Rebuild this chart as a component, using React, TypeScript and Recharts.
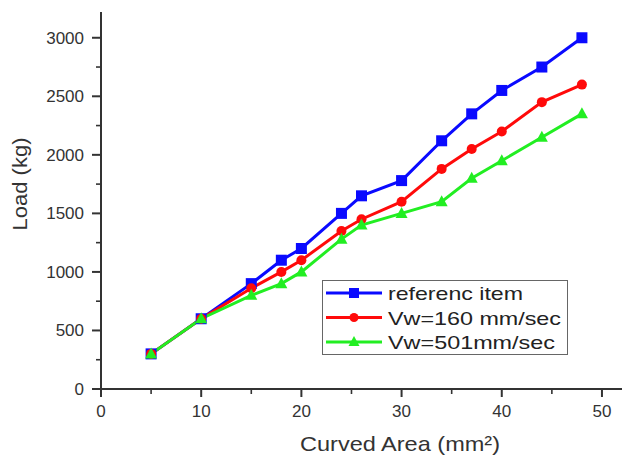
import { Legend, Line, LineChart, XAxis, YAxis } from "recharts";

// curved area (mm²) and measured load (kg)
const AREA = [5, 10, 15, 18, 20, 24, 26, 30, 34, 37, 40, 44, 48];
const REFERENCE_LOAD = [300, 600, 900, 1100, 1200, 1500, 1650, 1780, 2120, 2350, 2550, 2750, 3000];
const VW160_LOAD = [300, 600, 860, 1000, 1100, 1350, 1450, 1600, 1880, 2050, 2200, 2450, 2600];
const VW501_LOAD = [300, 600, 800, 900, 1000, 1280, 1400, 1500, 1600, 1800, 1950, 2150, 2350];

const X_TICKS = [0, 5, 10, 15, 20, 25, 30, 35, 40, 45, 50];
const Y_TICKS = [0, 250, 500, 750, 1000, 1250, 1500, 1750, 2000, 2250, 2500, 2750, 3000];

const SERIES = [
  { key: "ref", name: "referenc item", color: "#0a0aff", shape: "square", textLen: 135 },
  { key: "v160", name: "Vw=160 mm/sec", color: "#ff0a0a", shape: "circle", textLen: 173 },
  { key: "v501", name: "Vw=501mm/sec", color: "#22ee22", shape: "triangle", textLen: 167 },
];

const data = AREA.map((x, i) => ({
  x,
  ref: REFERENCE_LOAD[i],
  v160: VW160_LOAD[i],
  v501: VW501_LOAD[i],
}));

const FONT = "'Liberation Sans', Arial, sans-serif";
const INK = "#333";

function Marker({ shape, cx, cy, color, size = 11 }: any) {
  const h = size / 2;
  if (shape === "square") {
    return <rect x={cx - h} y={cy - h} width={size} height={size} fill={color} />;
  }
  if (shape === "circle") {
    return <circle cx={cx} cy={cy} r={h - 0.5} fill={color} />;
  }
  return (
    <polygon
      points={`${cx},${cy - h - 1} ${cx - h - 0.5},${cy + h - 1} ${cx + h + 0.5},${cy + h - 1}`}
      fill={color}
    />
  );
}

const makeDot = (shape: string, color: string) => (p: any) => (
  <Marker key={`${shape}-${p.index}`} shape={shape} cx={p.cx} cy={p.cy} color={color} />
);

function XTick({ x, y, payload }: any) {
  const major = payload.value % 10 === 0;
  return (
    <g>
      <line x1={x} x2={x} y1={y} y2={y + (major ? 8 : 5)} stroke={INK} strokeWidth={major ? 2 : 1.6} />
      {major && (
        <text x={x} y={y + 28} textAnchor="middle" fontSize={17} fill={INK} fontFamily={FONT}>
          {payload.value}
        </text>
      )}
    </g>
  );
}

function YTick({ x, y, payload }: any) {
  const major = payload.value % 500 === 0;
  return (
    <g>
      <line x1={x - (major ? 9 : 5)} x2={x} y1={y} y2={y} stroke={INK} strokeWidth={major ? 2 : 1.6} />
      {major && (
        <text x={x - 17} y={y + 6} textAnchor="end" fontSize={17} fill={INK} fontFamily={FONT}>
          {payload.value}
        </text>
      )}
    </g>
  );
}

function XTitle({ viewBox }: any) {
  return (
    <text
      x={viewBox.x + 299}
      y={viewBox.y + 62}
      textAnchor="middle"
      fontSize={21}
      fill={INK}
      fontFamily={FONT}
      textLength={200}
      lengthAdjust="spacingAndGlyphs"
    >
      Curved Area (mm²)
    </text>
  );
}

function YTitle({ viewBox }: any) {
  const cx = viewBox.x + 27;
  const cy = viewBox.y + 172;
  return (
    <text
      x={cx}
      y={cy}
      transform={`rotate(-90, ${cx}, ${cy})`}
      textAnchor="middle"
      fontSize={21}
      fill={INK}
      fontFamily={FONT}
      textLength={93}
      lengthAdjust="spacingAndGlyphs"
    >
      Load (kg)
    </text>
  );
}

function LegendBox() {
  return (
    <svg width={246} height={75} style={{ display: "block" }}>
      <rect x={0.5} y={0.5} width={245} height={74} fill="#fff" stroke="#666" strokeWidth={1} />
      {SERIES.map((s, i) => {
        const cy = 13 + i * 24.5;
        return (
          <g key={s.key}>
            <line x1={4} x2={60} y1={cy} y2={cy} stroke={s.color} strokeWidth={3} />
            <Marker shape={s.shape} cx={32} cy={cy} color={s.color} size={10} />
            <text
              x={66}
              y={cy + 7}
              fontSize={19}
              fill="#222"
              fontFamily={FONT}
              textLength={s.textLen}
              lengthAdjust="spacingAndGlyphs"
            >
              {s.name}
            </text>
          </g>
        );
      })}
    </svg>
  );
}

export default function App() {
  return (
    <div style={{ position: "absolute", left: 0, top: 0, width: 622, height: 455, background: "#fff" }}>
      <LineChart width={622} height={455} data={data} margin={{ top: 12, right: 0, bottom: 0, left: 0 }}>
        <XAxis
          type="number"
          dataKey="x"
          domain={[0, 52]}
          ticks={X_TICKS}
          interval={0}
          height={66}
          tickSize={0}
          tickMargin={0}
          tickLine={false}
          tick={<XTick />}
          axisLine={{ stroke: INK, strokeWidth: 2 }}
          label={<XTitle />}
        />
        <YAxis
          type="number"
          domain={[0, 3220]}
          ticks={Y_TICKS}
          interval={0}
          width={101}
          tickSize={0}
          tickMargin={0}
          tickLine={false}
          tick={<YTick />}
          axisLine={{ stroke: INK, strokeWidth: 2 }}
          label={<YTitle />}
        />
        <Legend
          layout="vertical"
          align="center"
          verticalAlign="middle"
          content={<LegendBox />}
          wrapperStyle={{ left: 322, top: 280, width: 246, height: 75 }}
        />
        {SERIES.map((s) => (
          <Line
            key={s.key}
            type="linear"
            dataKey={s.key}
            name={s.name}
            stroke={s.color}
            strokeWidth={3}
            dot={makeDot(s.shape, s.color)}
            activeDot={false}
            isAnimationActive={false}
          />
        ))}
      </LineChart>
    </div>
  );
}
